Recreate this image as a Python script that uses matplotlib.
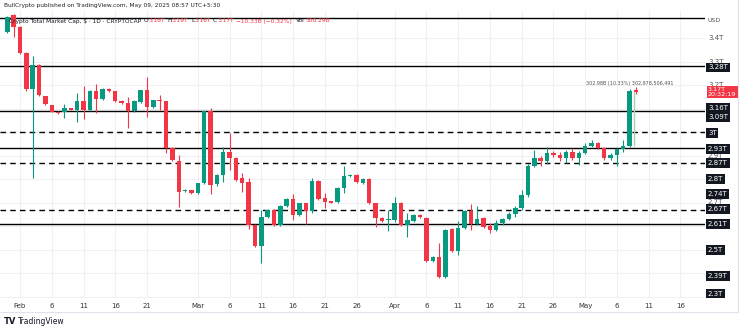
#!/usr/bin/env python3
"""Crypto total market cap, daily candles (TradingView style snapshot)."""

import matplotlib
matplotlib.use("Agg")
import matplotlib.pyplot as plt
import matplotlib.dates as mdates
import matplotlib.transforms as mtransforms
import numpy as np
import pandas as pd

# ── data (values in trillions USD) ─────────────────────────────────────
dates = pd.date_range("2025-01-30", "2025-05-09", freq="D")

opens = [
    3.425, 3.498,                                                     # Jan 30-31
    3.447, 3.336, 3.183, 3.285, 3.153, 3.115, 3.085, 3.085, 3.102, 3.094,
    3.132, 3.094, 3.174, 3.140, 3.183, 3.174, 3.132, 3.123, 3.089, 3.128,
    3.178, 3.106, 3.136, 3.132, 2.932, 2.877, 2.749, 2.753,           # Feb
    2.740, 2.783, 3.089, 2.780, 2.817, 2.915, 2.889, 2.804, 2.787, 2.604,
    2.515, 2.638, 2.668, 2.604, 2.685, 2.715, 2.647, 2.698, 2.664, 2.791,
    2.719, 2.704, 2.702, 2.762, 2.813, 2.817, 2.783, 2.800, 2.698, 2.634,
    2.624,                                                            # Mar
    2.626, 2.698, 2.604, 2.621, 2.647, 2.634, 2.451, 2.468, 2.383, 2.587,
    2.494, 2.592, 2.664, 2.608, 2.634, 2.598, 2.583, 2.613, 2.630, 2.651,
    2.677, 2.732, 2.855, 2.889, 2.877, 2.911, 2.902, 2.889, 2.915, 2.889,  # Apr
    2.911, 2.940, 2.953, 2.932, 2.889, 2.902, 2.928, 2.940, 3.180,    # May
]
highs = [
    3.495, 3.502,
    3.452, 3.340, 3.323, 3.290, 3.155, 3.117, 3.090, 3.119, 3.104, 3.166,
    3.196, 3.178, 3.204, 3.187, 3.186, 3.176, 3.135, 3.149, 3.135, 3.180,
    3.234, 3.138, 3.157, 3.134, 2.935, 2.902, 2.757, 2.755,
    2.785, 3.093, 3.102, 2.820, 2.936, 2.996, 2.893, 2.825, 2.804, 2.607,
    2.668, 2.671, 2.671, 2.688, 2.718, 2.736, 2.700, 2.700, 2.804, 2.796,
    2.740, 2.708, 2.765, 2.855, 2.822, 2.820, 2.803, 2.803, 2.700, 2.637,
    2.668,
    2.723, 2.702, 2.655, 2.650, 2.650, 2.637, 2.471, 2.528, 2.587, 2.590,
    2.621, 2.667, 2.694, 2.685, 2.638, 2.612, 2.625, 2.635, 2.660, 2.685,
    2.755, 2.865, 2.923, 2.900, 2.936, 2.918, 2.915, 2.925, 2.930, 2.920,
    2.955, 2.966, 2.958, 2.935, 2.910, 2.932, 2.966, 3.183, 3.190,
]
lows = [
    3.420, 3.404,
    3.330, 3.175, 2.804, 3.153, 3.115, 3.083, 3.077, 3.060, 3.092, 3.043,
    3.055, 3.090, 3.081, 3.136, 3.172, 3.128, 3.120, 3.017, 3.086, 3.125,
    3.064, 3.103, 3.094, 2.911, 2.878, 2.681, 2.745, 2.736,
    2.738, 2.780, 2.736, 2.770, 2.787, 2.838, 2.792, 2.745, 2.587, 2.511,
    2.442, 2.635, 2.600, 2.600, 2.682, 2.626, 2.644, 2.608, 2.655, 2.711,
    2.677, 2.697, 2.700, 2.740, 2.810, 2.784, 2.779, 2.694, 2.596, 2.618,
    2.579,
    2.617, 2.600, 2.553, 2.618, 2.635, 2.447, 2.448, 2.379, 2.380, 2.490,
    2.477, 2.589, 2.583, 2.605, 2.590, 2.570, 2.578, 2.605, 2.625, 2.640,
    2.670, 2.725, 2.850, 2.855, 2.865, 2.895, 2.875, 2.870, 2.880, 2.860,
    2.905, 2.935, 2.928, 2.880, 2.880, 2.855, 2.915, 2.935, 3.160,
]
closes = [
    3.489, 3.447,
    3.336, 3.183, 3.285, 3.157, 3.119, 3.085, 3.081, 3.102, 3.094, 3.132,
    3.094, 3.174, 3.140, 3.183, 3.174, 3.132, 3.123, 3.089, 3.132, 3.178,
    3.106, 3.136, 3.132, 2.932, 2.881, 2.745, 2.753, 2.740,
    2.783, 3.089, 2.774, 2.817, 2.915, 2.889, 2.796, 2.783, 2.604, 2.515,
    2.638, 2.668, 2.604, 2.685, 2.715, 2.647, 2.698, 2.664, 2.791, 2.715,
    2.702, 2.700, 2.762, 2.813, 2.817, 2.787, 2.800, 2.698, 2.634, 2.621,
    2.627,
    2.698, 2.604, 2.626, 2.647, 2.638, 2.451, 2.468, 2.383, 2.583, 2.494,
    2.592, 2.664, 2.608, 2.630, 2.596, 2.583, 2.613, 2.630, 2.651, 2.677,
    2.732, 2.855, 2.889, 2.877, 2.911, 2.902, 2.889, 2.915, 2.889, 2.911,
    2.940, 2.953, 2.932, 2.889, 2.902, 2.928, 2.940, 3.174, 3.170,
]

solid_levels = [3.485, 3.28, 3.09, 2.93, 2.61]
dashed_levels = [3.0, 2.87, 2.67]

# price-scale boxes: (text, price where the box sits)
box_labels = ["3.28T", "3.16T", "3.09T", "3T", "2.93T", "2.87T", "2.8T",
              "2.74T", "2.67T", "2.61T", "2.5T", "2.39T", "2.3T"]
box_prices = [3.275, 3.102, 3.062, 2.996, 2.928, 2.868, 2.800,
              2.736, 2.672, 2.608, 2.498, 2.387, 2.312]
grid_ticks = [3.4, 3.3, 3.2, 3.1, 3.0, 2.9, 2.8, 2.7, 2.6, 2.5, 2.4, 2.3]
visible_ticks = [3.4, 3.3, 3.2, 2.9, 2.7]
last_price = 3.17

tick_dates = ["2025-02-01", "2025-02-06", "2025-02-11", "2025-02-16", "2025-02-21",
              "2025-03-01", "2025-03-06", "2025-03-11", "2025-03-16", "2025-03-21",
              "2025-03-26", "2025-04-01", "2025-04-06", "2025-04-11", "2025-04-16",
              "2025-04-21", "2025-04-26", "2025-05-01", "2025-05-06", "2025-05-11",
              "2025-05-16"]
tick_labels = ["Feb", "6", "11", "16", "21", "Mar", "6", "11", "16", "21", "26",
               "Apr", "6", "11", "16", "21", "26", "May", "6", "11", "16"]

assert len(opens) == len(highs) == len(lows) == len(closes) == len(dates)

# ── layout (pixels of the 745x331 picture) ─────────────────────────────
W, H = 745, 331
PANE_L, PANE_R, PANE_T, PANE_B = 0, 705, 11, 298
PX_PER_T, Y_AT_3T = 235.0, 132.0      # vertical price scale
PX_PER_DAY, X_AT_FEB1 = 6.35, 20.0    # horizontal time scale

GREEN, RED = "#089981", "#f23645"
INK = "#131722"


def fx(px):
    return px / W


def fy(py):
    return 1 - py / H


def price_at(py):
    return 3.0 + (Y_AT_3T - py) / PX_PER_T


fig = plt.figure(figsize=(W / 100, H / 100), dpi=100)
fig.patch.set_facecolor("white")
ax = fig.add_axes([fx(PANE_L), fy(PANE_B), fx(PANE_R - PANE_L), (PANE_B - PANE_T) / H])

x = mdates.date2num(dates)
feb1 = mdates.date2num(pd.Timestamp("2025-02-01"))
ax.set_xlim(feb1 - X_AT_FEB1 / PX_PER_DAY, feb1 + (PANE_R - X_AT_FEB1) / PX_PER_DAY)
ax.set_ylim(price_at(PANE_B), price_at(PANE_T))

o, h, l, c = map(np.array, (opens, highs, lows, closes))
up = c >= o
cols = np.where(up, GREEN, RED)
body_h = np.maximum(np.abs(c - o), 0.0045)

ax.vlines(x, l, h, colors=cols, linewidth=0.8, zorder=3)
ax.bar(x, body_h, bottom=np.minimum(o, c), width=0.7, color=cols,
       linewidth=0, zorder=4)

# ── horizontal levels ──────────────────────────────────────────────────
for v in solid_levels:
    ax.axhline(v, color="black", linewidth=1.0, zorder=2)
for v in dashed_levels:
    ax.axhline(v, color="black", linewidth=1.0, dashes=(4, 3), zorder=2)

# measuring line on the breakout candle
ax.vlines(x[-2] + 0.75, o[-2], c[-2], colors="#a5d6a7", linewidth=1.0, zorder=2)
ax.text(x[-2], price_at(83), "302.98B (10.33%) 302,978,506,491",
        fontsize=3.5, color="#555555", ha="center", va="center", zorder=5)

# ── grid / axes styling ────────────────────────────────────────────────
ax.set_yticks(grid_ticks)
ax.set_xticks(mdates.date2num(pd.to_datetime(tick_dates)))
ax.set_xticklabels(tick_labels, fontsize=5, color="#333333")
ax.tick_params(axis="x", length=0, pad=3.5)
ax.tick_params(axis="y", length=0, labelleft=False)
ax.grid(True, color="#eef0f6", linewidth=0.8, zorder=0)
for s in ax.spines.values():
    s.set_visible(False)

# ── price scale on the right ───────────────────────────────────────────
tr = mtransforms.blended_transform_factory(ax.transAxes, ax.transData)
lx = 708 / (PANE_R - PANE_L)
for v in visible_ticks:
    ax.text(lx, v, f"{v:g}T", transform=tr, fontsize=5, color="#555555",
            ha="left", va="center", clip_on=False, zorder=6)
ax.text(lx, price_at(20), "USD", transform=tr, fontsize=4.5, color="#555555",
        ha="left", va="center", clip_on=False, zorder=6)
for lab, v in zip(box_labels, box_prices):
    ax.text(lx, v, lab, transform=tr, fontsize=5, color="white", ha="left",
            va="center", clip_on=False, zorder=8,
            bbox=dict(boxstyle="square,pad=0.25", fc=INK, ec="none"))
ax.text(lx, last_price, f"{last_price:g}T\n20:32:19", transform=tr, fontsize=4.6,
        color="white", ha="left", va="center", linespacing=1.05, clip_on=False,
        zorder=9, bbox=dict(boxstyle="square,pad=0.2", fc=RED, ec="none"))

# ── frame lines ────────────────────────────────────────────────────────
fig.add_artist(plt.Line2D([0, fx(738)], [fy(312), fy(312)], color="#e0e3eb",
                          linewidth=0.8, transform=fig.transFigure))
fig.add_artist(plt.Line2D([fx(738), fx(738)], [fy(0), fy(312)], color="#e0e3eb",
                          linewidth=0.8, transform=fig.transFigure))

# ── header ─────────────────────────────────────────────────────────────
HDR_FS = 4.2
fig.text(fx(4), fy(6), "BullCrypto published on TradingView.com, May 09, 2025 08:57 UTC+5:30",
         fontsize=HDR_FS, color="#222222", ha="left", va="center")

renderer = fig.canvas.get_renderer()
header_parts = [("Crypto Total Market Cap, $ · 1D · CRYPTOCAP", INK, 2),
                ("O", INK, -0.5), ("3.18T", RED, 2),
                ("H", INK, -0.5), ("3.19T", RED, 2),
                ("L", INK, -0.5), ("3.16T", RED, 2),
                ("C", INK, -0.5), ("3.17T", RED, 2),
                ("−10.33B (−0.32%)", RED, 3),
                ("Vol", INK, 0.5), ("300.29B", RED, 0)]
cur = 9
for txt, col, gap in header_parts:
    t = fig.text(fx(cur), fy(21), txt, fontsize=HDR_FS, color=col, ha="left",
                 va="center", zorder=10)
    cur = t.get_window_extent(renderer).x1 + 0.5 + gap

# ── footer logo ────────────────────────────────────────────────────────
fig.text(fx(4), fy(322), "TV", fontsize=6, fontweight="bold", color=INK,
         ha="left", va="center")
fig.text(fx(18), fy(322), "TradingView", fontsize=5.5, color=INK,
         ha="left", va="center")

fig.savefig("out.png", dpi=100)
